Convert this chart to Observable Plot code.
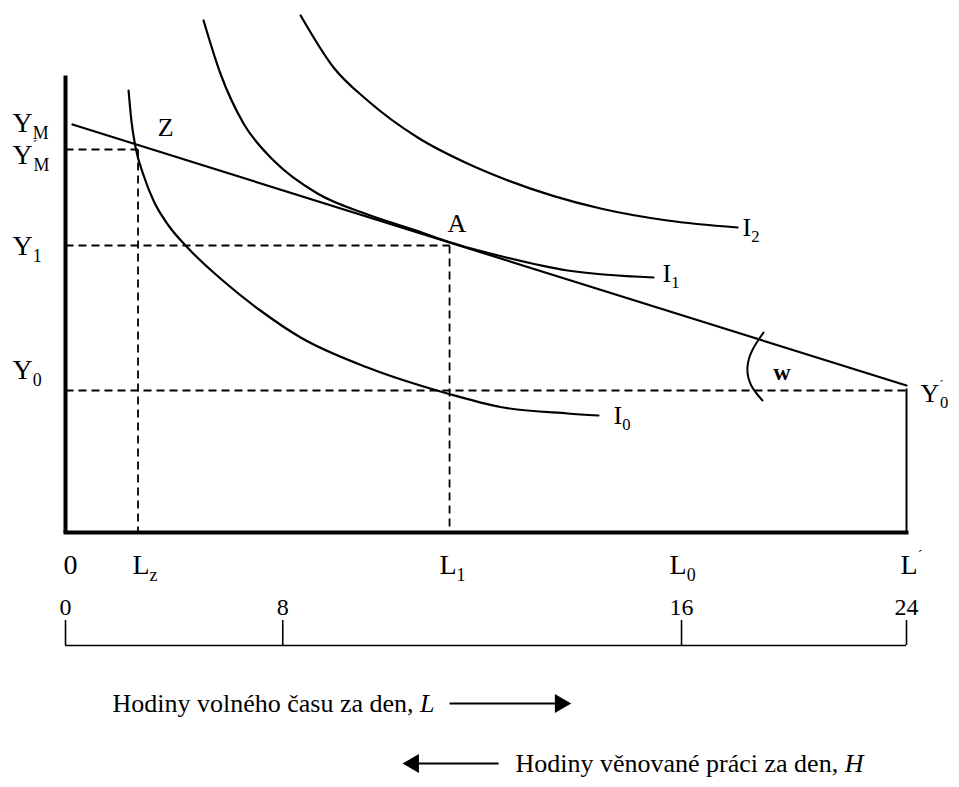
<!DOCTYPE html>
<html><head><meta charset="utf-8">
<script src="https://cdn.jsdelivr.net/npm/d3@7"></script>
<script src="https://cdn.jsdelivr.net/npm/@observablehq/plot@0.6"></script>
<style>body{margin:0;background:#fff} svg{display:block}</style>
</head><body><div id="chart"></div>
<script>
// ---- data (x: leisure position 0..24 along the axis, y: income units) ----
const curveI0 = [[1.80,88.4],[1.88,82.4],[2.00,77.0],[2.23,71.4],[2.51,66.4],[2.94,61.4],[3.48,57.0],[4.42,50.8],[5.56,44.4],[6.71,39.0],[8.62,33.0],[10.90,27.8],[12.41,25.1],[14.33,23.8],[15.21,23.4]];
const curveI1 = [[3.94,102.4],[4.42,91.8],[5.08,81.8],[5.94,74.4],[7.19,67.8],[8.62,63.6],[10.05,60.3],[10.99,58.0],[12.41,55.3],[14.33,52.4],[16.78,51.0]];
const curveI2 = [[6.71,103.4],[7.65,93.0],[8.62,86.4],[10.05,79.0],[11.47,73.8],[12.41,71.0],[15.27,64.8],[17.18,62.4],[19.18,61.0]];
const budgetLine = [[0.2,81.6],[24,29.4]];
const wageArc = [[19.92,40.0],[19.61,36.6],[19.46,33.0],[19.57,29.4],[19.89,26.4]];

const yAxisTop = 91.4;
const xAxisEnd = 24;
const Lz = 2.07, L1 = 10.96, Lmax = 24;
const YMprime = 76.6, Y1 = 57.4, Y0 = 28.4;

const guideSegments = [
  {x1:0, y1:YMprime, x2:Lz, y2:YMprime},
  {x1:Lz, y1:YMprime, x2:Lz, y2:0},
  {x1:0, y1:Y1, x2:L1, y2:Y1},
  {x1:L1, y1:Y1, x2:L1, y2:0},
  {x1:0, y1:Y0, x2:Lmax, y2:Y0}
];
const endowmentSegment = [{x1:Lmax, y1:28.8, x2:Lmax, y2:0}];

const yLabelText = ["Y_M","Y^´_M","Y_1","Y_0"];
const yLabelPos = [81.8, 75.4, 57.2, 32.4];
const pointLabels = [
  {t:"Z", x:2.63, y:81.0},
  {t:"A", x:10.90, y:61.8}
];
const curveLabels = [
  {t:"I_0", x:15.64, y:23.4},
  {t:"I_1", x:17.04, y:51.8},
  {t:"I_2", x:19.32, y:61.0},
  {t:"Y^´_0", x:24.40, y:27.8}
];
const wLabel = [{t:"w", x:20.2, y:32.0}];

const leisureLabelText = ["0","L_z","L_1","L_0","L^´"];
const leisureLabelPos = [-0.06, 1.91, 10.67, 17.24, 23.83];
const hourTickPos = [0, 6.2, 17.58, 24];
const hourTickText = ["0","8","16","24"];

const captions = [
  {t:"Hodiny volného času za den, {L}", x:1.34, y:-34.2},
  {t:"Hodiny věnované práci za den, {H}", x:12.84, y:-46.2}
];
const arrowShafts = [
  {x1:10.96, x2:14.10, y:-34.2},
  {x1:9.95, x2:12.36, y:-46.2}
];
const arrowHeads = [
  {x:14.12, y:-34.2, dir:90},
  {x:9.93, y:-46.2, dir:-90}
];

const serif = "'Liberation Serif','Times New Roman',serif";

const plot = Plot.plot({
  width: 959, height: 787, margin: 0,
  x: {domain:[0,24], range:[65,906], axis:null},
  y: {domain:[0,100], range:[532,32], axis:null},
  style: {fontFamily: serif, background:"white", color:"black"},
  marks: [
    // dashed guides
    Plot.link(guideSegments, {x1:"x1", y1:"y1", x2:"x2", y2:"y2", stroke:"black", strokeWidth:1.8, strokeDasharray:"8,5"}),
    Plot.link(endowmentSegment, {x1:"x1", y1:"y1", x2:"x2", y2:"y2", stroke:"black", strokeWidth:2}),
    // axes
    Plot.link([{x1:0,y1:0,x2:0,y2:yAxisTop}], {x1:"x1", y1:"y1", x2:"x2", y2:"y2", stroke:"black", strokeWidth:4}),
    Plot.link([{x1:0,y1:0,x2:xAxisEnd,y2:0}], {x1:"x1", y1:"y1", x2:"x2", y2:"y2", stroke:"black", strokeWidth:4, strokeLinecap:"square"}),
    // budget line and indifference curves
    Plot.line(budgetLine, {x:d=>d[0], y:d=>d[1], stroke:"black", strokeWidth:2.2}),
    Plot.line(curveI0, {x:d=>d[0], y:d=>d[1], stroke:"black", strokeWidth:2.2, curve:"monotone-x"}),
    Plot.line(curveI1, {x:d=>d[0], y:d=>d[1], stroke:"black", strokeWidth:2.2, curve:"monotone-x"}),
    Plot.line(curveI2, {x:d=>d[0], y:d=>d[1], stroke:"black", strokeWidth:2.2, curve:"monotone-x"}),
    Plot.line(wageArc, {x:d=>d[0], y:d=>d[1], stroke:"black", strokeWidth:2, curve:"natural"}),
    // labels
    Plot.text(yLabelText, {x:-1.51, y:(d,i)=>yLabelPos[i], text:d=>d, textAnchor:"start", fontSize:28, fill:"black"}),
    Plot.text(pointLabels, {x:"x", y:"y", text:"t", textAnchor:"start", fontSize:26, fill:"black"}),
    Plot.text(curveLabels, {x:"x", y:"y", text:"t", textAnchor:"start", fontSize:26, fill:"black"}),
    Plot.text(wLabel, {x:"x", y:"y", text:"t", textAnchor:"start", fontSize:24, fontWeight:"bold", fill:"black"}),
    Plot.text(leisureLabelText, {x:(d,i)=>leisureLabelPos[i], y:-6.6, text:d=>d, textAnchor:"start", fontSize:28, fill:"black"}),
    Plot.text(hourTickText, {x:(d,i)=>hourTickPos[i], y:-15, text:d=>d, textAnchor:"middle", fontSize:24, fill:"black"}),
    // hour bracket
    Plot.ruleY([-22.6], {x1:0, x2:24, stroke:"black", strokeWidth:1.6}),
    Plot.ruleX(hourTickPos, {y1:-17.6, y2:-22.6, stroke:"black", strokeWidth:1.6}),
    // captions and arrows
    Plot.text(captions, {x:"x", y:"y", text:"t", textAnchor:"start", fontSize:26, fill:"black"}),
    Plot.link(arrowShafts, {x1:"x1", x2:"x2", y1:"y", y2:"y", stroke:"black", strokeWidth:2}),
    Plot.dot(arrowHeads, {x:"x", y:"y", symbol:"triangle", r:7, rotate:"dir", fill:"black", stroke:null})
  ]
});
document.getElementById("chart").appendChild(plot);

// rich text: ^x superscript, _x subscript, {..} italic
function richify(el){
  const s = el.textContent;
  if (!/[\^_{]/.test(s)) return;
  const fs = parseFloat(getComputedStyle(el).fontSize) || 24;
  el.textContent = "";
  const re = /\^(.)|_(.)|\{([^}]*)\}|([^\^_{]+)/g;
  let m, off = 0, prevSup = false;
  while ((m = re.exec(s))) {
    const ts = document.createElementNS("http://www.w3.org/2000/svg","tspan");
    if (m[1] !== undefined) {
      const sh = -fs*0.5;
      ts.setAttribute("font-size", fs*0.5);
      ts.setAttribute("dy", sh - off); off = sh;
      ts.textContent = m[1]; prevSup = true;
    } else if (m[2] !== undefined) {
      const sh = fs*0.22;
      ts.setAttribute("font-size", fs*0.64);
      ts.setAttribute("dy", sh - off); off = sh;
      if (prevSup) ts.setAttribute("dx", -fs*0.14);
      ts.textContent = m[2]; prevSup = false;
    } else if (m[3] !== undefined) {
      ts.setAttribute("font-style","italic");
      ts.setAttribute("dy", -off); off = 0;
      ts.textContent = m[3]; prevSup = false;
    } else {
      ts.setAttribute("dy", -off); off = 0;
      ts.textContent = m[4]; prevSup = false;
    }
    el.appendChild(ts);
  }
}
d3.select(plot).selectAll("text").each(function(){ richify(this); });
</script>
</body></html>
